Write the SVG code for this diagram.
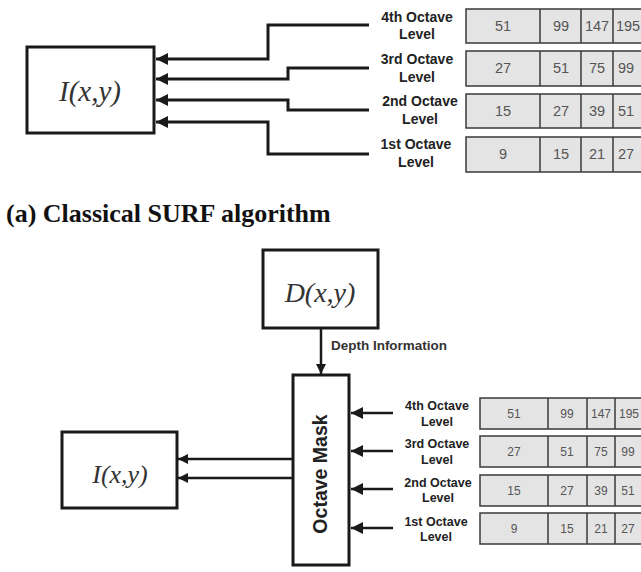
<svg xmlns="http://www.w3.org/2000/svg" width="641" height="572" viewBox="0 0 641 572">
<defs>
<style>
.box{fill:#fff;stroke:#1a1a1a;stroke-width:3}
.ln{fill:none;stroke:#1a1a1a;stroke-width:3}
.ln2{fill:none;stroke:#1a1a1a;stroke-width:2.5}
.math{font-family:"Liberation Serif",serif;font-style:italic;fill:#333;text-anchor:middle}
.lbl{font-family:"Liberation Sans",Arial,sans-serif;font-weight:bold;fill:#222;text-anchor:middle}
.cell{fill:#e4e4e4;stroke:#3a3a3a;stroke-width:1.5}
.div{stroke:#3a3a3a;stroke-width:1.5}
.num{font-family:"Liberation Sans",Arial,sans-serif;fill:#555;text-anchor:middle}
</style>
<marker id="ah" viewBox="0 0 12 12" refX="12" refY="6" markerWidth="12" markerHeight="12" markerUnits="userSpaceOnUse" orient="auto">
<path d="M0,0 L12,6 L0,12 Z" fill="#1a1a1a"/>
</marker>
<marker id="ahs" viewBox="0 0 10 10" refX="10" refY="5" markerWidth="10" markerHeight="10" markerUnits="userSpaceOnUse" orient="auto">
<path d="M0,0 L10,5 L0,10 Z" fill="#1a1a1a"/>
</marker>
</defs>
<rect width="641" height="572" fill="#fff"/>

<!-- Top section -->
<g id="top-I">
<rect class="box" x="27" y="47" width="127" height="86"/>
<text class="math" x="90" y="101" font-size="29">I(x,y)</text>
</g>

<g id="top-connectors">
<polyline class="ln" points="369,25 268,25 268,59 156,59" marker-end="url(#ah)"/>
<polyline class="ln" points="369,68 288,68 288,79 156,79" marker-end="url(#ah)"/>
<polyline class="ln" points="369,110 288,110 288,100 156,100" marker-end="url(#ah)"/>
<polyline class="ln" points="369,154 268,154 268,122 156,122" marker-end="url(#ah)"/>
</g>

<g id="top-labels" font-size="14">
<text class="lbl" x="417" y="22">4th Octave</text>
<text class="lbl" x="417" y="39">Level</text>
<text class="lbl" x="417" y="64">3rd Octave</text>
<text class="lbl" x="417" y="82">Level</text>
<text class="lbl" x="420" y="106">2nd Octave</text>
<text class="lbl" x="420" y="124">Level</text>
<text class="lbl" x="416" y="149">1st Octave</text>
<text class="lbl" x="416" y="167">Level</text>
</g>

<g id="top-table" font-size="14.5">
<g id="top-row4">
<rect class="cell" x="466" y="9" width="180" height="34"/>
<line class="div" x1="540" y1="9" x2="540" y2="43"/><line class="div" x1="581" y1="9" x2="581" y2="43"/><line class="div" x1="613" y1="9" x2="613" y2="43"/>
<text class="num" x="503" y="31">51</text><text class="num" x="561" y="31">99</text><text class="num" x="597" y="31">147</text><text class="num" x="628" y="31">195</text>
</g>
<g id="top-row3">
<rect class="cell" x="466" y="51" width="180" height="35"/>
<line class="div" x1="540" y1="51" x2="540" y2="86"/><line class="div" x1="581" y1="51" x2="581" y2="86"/><line class="div" x1="613" y1="51" x2="613" y2="86"/>
<text class="num" x="503" y="73">27</text><text class="num" x="561" y="73">51</text><text class="num" x="597" y="73">75</text><text class="num" x="626" y="73">99</text>
</g>
<g id="top-row2">
<rect class="cell" x="466" y="94" width="180" height="34"/>
<line class="div" x1="540" y1="94" x2="540" y2="128"/><line class="div" x1="581" y1="94" x2="581" y2="128"/><line class="div" x1="613" y1="94" x2="613" y2="128"/>
<text class="num" x="503" y="116">15</text><text class="num" x="561" y="116">27</text><text class="num" x="597" y="116">39</text><text class="num" x="626" y="116">51</text>
</g>
<g id="top-row1">
<rect class="cell" x="466" y="137" width="180" height="35"/>
<line class="div" x1="540" y1="137" x2="540" y2="172"/><line class="div" x1="581" y1="137" x2="581" y2="172"/><line class="div" x1="613" y1="137" x2="613" y2="172"/>
<text class="num" x="503" y="159">9</text><text class="num" x="561" y="159">15</text><text class="num" x="597" y="159">21</text><text class="num" x="626" y="159">27</text>
</g>
</g>

<text id="caption" x="6" y="222" font-family="Liberation Serif,serif" font-weight="bold" font-size="26" fill="#111">(a) Classical SURF algorithm</text>

<!-- Bottom section -->
<g id="bottom-D">
<rect class="box" x="263" y="250" width="115" height="78"/>
<text class="math" x="320" y="302" font-size="28">D(x,y)</text>
</g>

<g id="octave-mask">
<rect class="box" x="293" y="375" width="56" height="190"/>
<text class="lbl" font-size="19.5" transform="translate(327,474) rotate(-90)">Octave Mask</text>
</g>

<g id="bottom-I">
<rect class="box" x="62" y="432" width="115" height="76"/>
<text class="math" x="120" y="483" font-size="26">I(x,y)</text>
</g>

<g id="bottom-connectors">
<line class="ln2" x1="321" y1="328" x2="321" y2="374" marker-end="url(#ahs)"/>
<line class="ln2" x1="393" y1="413" x2="351" y2="413" marker-end="url(#ah)"/>
<line class="ln2" x1="393" y1="451" x2="351" y2="451" marker-end="url(#ah)"/>
<line class="ln2" x1="393" y1="489" x2="351" y2="489" marker-end="url(#ah)"/>
<line class="ln2" x1="393" y1="528" x2="351" y2="528" marker-end="url(#ah)"/>
<line class="ln2" x1="292" y1="459" x2="178" y2="459" marker-end="url(#ahs)"/>
<line class="ln2" x1="292" y1="478" x2="178" y2="478" marker-end="url(#ahs)"/>
</g>

<text id="depth-label" x="331" y="350" font-family="Liberation Sans,Arial,sans-serif" font-weight="bold" font-size="12" fill="#333" textLength="116" lengthAdjust="spacingAndGlyphs">Depth Information</text>

<g id="bottom-labels" font-size="12.5">
<text class="lbl" x="437" y="410">4th Octave</text>
<text class="lbl" x="437" y="426">Level</text>
<text class="lbl" x="437" y="448">3rd Octave</text>
<text class="lbl" x="437" y="464">Level</text>
<text class="lbl" x="438" y="487">2nd Octave</text>
<text class="lbl" x="438" y="502">Level</text>
<text class="lbl" x="436" y="526">1st Octave</text>
<text class="lbl" x="436" y="541">Level</text>
</g>

<g id="bottom-table" font-size="12">
<g id="bot-row4">
<rect class="cell" x="480" y="398" width="170" height="31"/>
<line class="div" x1="548" y1="398" x2="548" y2="429"/><line class="div" x1="587" y1="398" x2="587" y2="429"/><line class="div" x1="615" y1="398" x2="615" y2="429"/>
<text class="num" x="514" y="418">51</text><text class="num" x="567" y="418">99</text><text class="num" x="601" y="418">147</text><text class="num" x="629" y="418">195</text>
</g>
<g id="bot-row3">
<rect class="cell" x="480" y="436" width="170" height="31"/>
<line class="div" x1="548" y1="436" x2="548" y2="467"/><line class="div" x1="587" y1="436" x2="587" y2="467"/><line class="div" x1="615" y1="436" x2="615" y2="467"/>
<text class="num" x="514" y="456">27</text><text class="num" x="567" y="456">51</text><text class="num" x="601" y="456">75</text><text class="num" x="628" y="456">99</text>
</g>
<g id="bot-row2">
<rect class="cell" x="480" y="475" width="170" height="31"/>
<line class="div" x1="548" y1="475" x2="548" y2="506"/><line class="div" x1="587" y1="475" x2="587" y2="506"/><line class="div" x1="615" y1="475" x2="615" y2="506"/>
<text class="num" x="514" y="495">15</text><text class="num" x="567" y="495">27</text><text class="num" x="601" y="495">39</text><text class="num" x="628" y="495">51</text>
</g>
<g id="bot-row1">
<rect class="cell" x="480" y="513" width="170" height="31"/>
<line class="div" x1="548" y1="513" x2="548" y2="544"/><line class="div" x1="587" y1="513" x2="587" y2="544"/><line class="div" x1="615" y1="513" x2="615" y2="544"/>
<text class="num" x="514" y="533">9</text><text class="num" x="567" y="533">15</text><text class="num" x="601" y="533">21</text><text class="num" x="628" y="533">27</text>
</g>
</g>
</svg>
